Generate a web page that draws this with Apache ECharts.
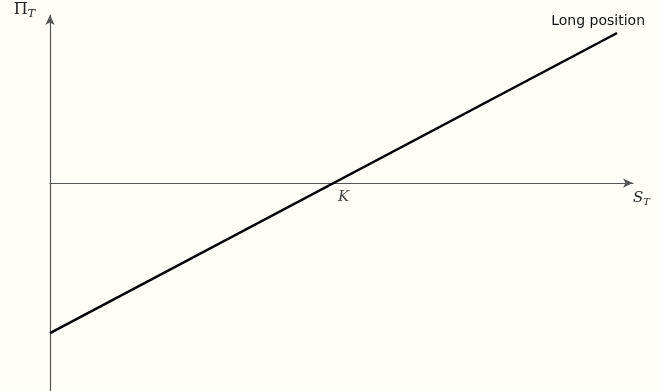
<!DOCTYPE html>
<html>
<head>
<meta charset="utf-8">
<script src="https://cdn.jsdelivr.net/npm/echarts@6/dist/echarts.min.js"></script>
<style>
  html, body { margin: 0; padding: 0; background: #fffff8; }
  #chart { width: 661px; height: 391px; }
</style>
</head>
<body>
<div id="chart"></div>
<script>
// Payoff of a long forward position at maturity: Π_T = S_T − K
const strike = 50;
const spotPrices = [0, 100];
const payoffs = [-50, 50];
const strikeLabel = 'K';
const seriesName = 'Long position';

const chart = echarts.init(document.getElementById('chart'), null, { renderer: 'canvas' });

const serif = '"DejaVu Serif", "Liberation Serif", serif';
const axisColor = '#555';

chart.setOption({
  backgroundColor: '#fffff8',
  animation: false,
  grid: { left: 50, top: 15, width: 583, height: 376, containLabel: false, outerBoundsMode: 'none' },
  xAxis: {
    type: 'value',
    min: 0,
    max: 102.8,
    splitLine: { show: false },
    axisTick: { show: false },
    axisLabel: { show: false },
    axisLine: {
      onZero: true,
      symbol: ['none', 'arrow'],
      symbolSize: [7, 10],
      lineStyle: { color: axisColor, width: 1.2 }
    },
    name: '{s|S}{sub|T}',
    nameLocation: 'end',
    nameGap: 0,
    nameTextStyle: {
      verticalAlign: 'top',
      align: 'left',
      padding: [6, 0, 0, 0],
      rich: {
        s: { fontFamily: serif, fontStyle: 'italic', fontSize: 15, color: '#222' },
        sub: { fontFamily: serif, fontStyle: 'italic', fontSize: 10, color: '#222', padding: [8, 0, 0, 0] }
      }
    }
  },
  yAxis: {
    type: 'value',
    min: -69.3,
    max: 56,
    splitLine: { show: false },
    axisTick: { show: false },
    axisLabel: { show: false },
    axisLine: {
      onZero: true,
      symbol: ['none', 'arrow'],
      symbolSize: [7, 10],
      lineStyle: { color: axisColor, width: 1.2 }
    },
    name: '{p|Π}{sub|T}',
    nameLocation: 'end',
    nameGap: 0,
    nameTextStyle: {
      align: 'right',
      verticalAlign: 'middle',
      padding: [0, 15, 10, 0],
      rich: {
        p: { fontFamily: serif, fontSize: 16, color: '#222' },
        sub: { fontFamily: serif, fontStyle: 'italic', fontSize: 11, color: '#222', padding: [8, 0, 0, 0] }
      }
    }
  },
  series: [{
    name: seriesName,
    type: 'line',
    data: spotPrices.map((s, i) => [s, payoffs[i]]),
    showSymbol: false,
    symbol: 'none',
    lineStyle: { color: '#000', width: 2.5 },
    endLabel: {
      show: true,
      formatter: seriesName,
      fontFamily: '"DejaVu Sans", sans-serif',
      fontSize: 14,
      color: '#111',
      align: 'center',
      verticalAlign: 'bottom',
      offset: [-27, -5]
    }
  }, {
    // strike marker on the horizontal axis
    type: 'scatter',
    data: [[strike, 0]],
    symbolSize: 0,
    silent: true,
    label: {
      show: true,
      formatter: strikeLabel,
      position: 'bottom',
      offset: [10, 2],
      fontFamily: serif,
      fontStyle: 'italic',
      fontSize: 15,
      color: '#111'
    }
  }]
});
</script>
</body>
</html>
